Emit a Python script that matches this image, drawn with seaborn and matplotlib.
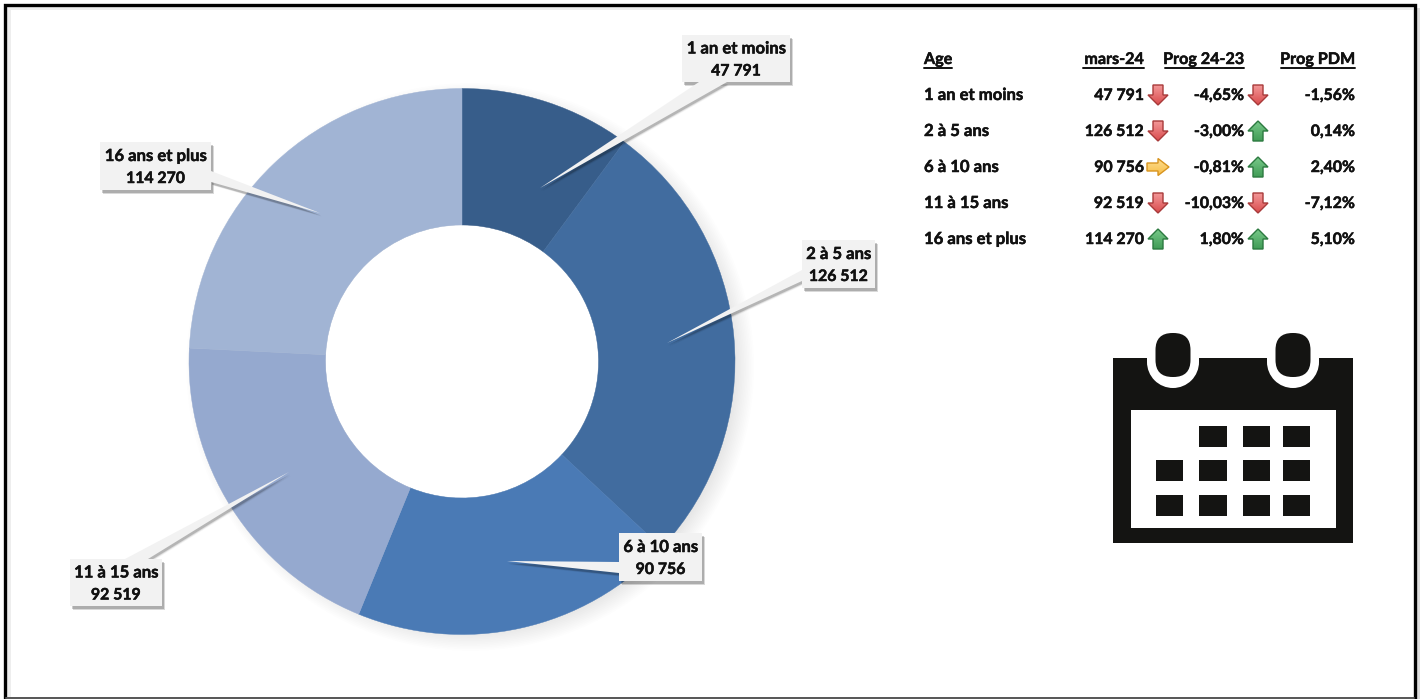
import matplotlib
matplotlib.use("Agg")
import matplotlib.patheffects as pe
import matplotlib.pyplot as plt
import numpy as np
import seaborn as sns
from matplotlib.patches import Circle, FancyBboxPatch, Polygon, Rectangle

ages = ["1 an et moins", "2 à 5 ans", "6 à 10 ans", "11 à 15 ans", "16 ans et plus"]
counts = [47791, 126512, 90756, 92519, 114270]
prog_year = ["-4,65%", "-3,00%", "-0,81%", "-10,03%", "1,80%"]
prog_pdm = ["-1,56%", "0,14%", "2,40%", "-7,12%", "5,10%"]
count_trend = ["down", "down", "flat", "down", "up"]
year_trend = ["down", "up", "up", "down", "up"]
headers = ["Age", "mars-24", "Prog 24-23", "Prog PDM"]
slice_colors = ["#375d8a", "#416c9f", "#4a7ab5", "#95a9cf", "#a1b4d4"]

W, H = 1421, 699
sns.set_theme(style="white")
plt.rcParams["font.family"] = ["Lato", "DejaVu Sans"]
plt.rcParams["font.weight"] = "bold"
FS_NAME = 12
FS_NUM = 11.4
FS_HEAD = 11.6
INK = "#111111"
HEAVY = [pe.withStroke(linewidth=0.35, foreground=INK)]


def fmt(v):
    return f"{v:,}".replace(",", " ")


fig = plt.figure(figsize=(W / 100, H / 100), dpi=100, facecolor="white")

# donut
cx, cy, r = 462, 361.5, 273
pie_ax = fig.add_axes([(cx - r) / W, 1 - (cy + r) / H, 2 * r / W, 2 * r / H])
pie_ax.set_xlim(-1, 1)
pie_ax.set_ylim(-1, 1)
pie_ax.axis("off")
# soft shadow, only shows to the lower right
for k in range(16):
    pie_ax.add_patch(Circle((0.03, -0.02), 0.95 + 0.006 * k, color="black", alpha=0.008,
                            lw=0, zorder=0, clip_on=False))
wedges, _ = pie_ax.pie(counts, colors=slice_colors, startangle=90, counterclock=False, radius=1,
                       wedgeprops=dict(width=0.5, linewidth=0.3, zorder=2))
for w in wedges:
    w.set_edgecolor(w.get_facecolor())
pie_ax.set_xlim(-1, 1)
pie_ax.set_ylim(-1, 1)
pie_ax.add_patch(Circle((0, 0), 0.5, color="white", lw=0, zorder=1))

# everything else in pixel coordinates
ax = fig.add_axes([0, 0, 1, 1], facecolor="none")
ax.set_xlim(0, W)
ax.set_ylim(H, 0)
ax.axis("off")
# frame with its faint shadow
ax.add_patch(Rectangle((7, 7), 4, 690, fc="#eeeeee", lw=0, zorder=0))
ax.add_patch(Rectangle((7, 7), 1406, 3, fc="#eeeeee", lw=0, zorder=0))
ax.add_patch(Rectangle((1416, 8), 4, 691, fc="#dddddd", lw=0, zorder=0))
ax.plot([5, 5, 1414.5, 1414.5], [699, 5, 5, 699], color="black", lw=2.4, zorder=1,
        solid_joinstyle="miter")
ax.plot([6, 1414], [698.3, 698.3], color="#555555", lw=1.4, zorder=1)


def shadow_poly(pts, dx=2, dy=3, strength=1.0):
    for k, a in zip((0, 1, 2), (0.20, 0.10, 0.05)):
        ax.add_patch(Polygon([(x + dx + k * 0.6, y + dy + k * 0.6) for x, y in pts], closed=True,
                             fc="black", alpha=a * strength, lw=0, zorder=4))


# callouts: box (x0, y0, x1, y1), tip, pointer base
callouts = [
    ((682, 35, 790, 82), (540, 188), [(699, 82), (727, 82)]),
    ((802, 240, 875, 288), (667, 343), [(802, 270), (802, 281)]),
    ((619, 533, 702, 581), (507, 561), [(619, 562), (619, 573)]),
    ((70, 559, 162, 606), (289, 472), [(125, 559), (148, 559)]),
    ((100, 142, 211, 190), (320, 213), [(211, 171), (211, 182)]),
]
for name, value, (box, tip, base) in zip(ages, counts, callouts):
    x0, y0, x1, y1 = box
    rect = [(x0, y0), (x1, y0), (x1, y1), (x0, y1)]
    shadow_poly(rect)
    shadow_poly([tip] + base, 1, 2.5, 0.9)
    ax.add_patch(Polygon([tip] + base, closed=True, fc="#f2f2f2", lw=0, zorder=5))
    ax.add_patch(Polygon(rect, closed=True, fc="#f2f2f2", lw=0, zorder=5))
    ym = (y0 + y1) / 2
    ax.text((x0 + x1) / 2, ym - 10, name, ha="center", va="center", fontsize=FS_NAME, color=INK,
            zorder=6, path_effects=HEAVY)
    ax.text((x0 + x1) / 2, ym + 13, fmt(value), ha="center", va="center", fontsize=FS_NUM, color=INK,
            zorder=6, path_effects=HEAVY)

# table
col_right = [None, 1144, 1244, 1355]
rows_y = [95, 131, 167, 203, 239]
ax.text(924, 60, headers[0], ha="left", va="center", fontsize=FS_HEAD, color=INK, path_effects=HEAVY)
ax.plot([924, 952], [67.5, 67.5], color=INK, lw=1.4)
for head, right, left in zip(headers[1:], col_right[1:], [1083, 1165, 1281]):
    ax.text(right, 60, head, ha="right", va="center", fontsize=FS_HEAD, color=INK, path_effects=HEAVY)
    ax.plot([left, right], [67.5, 67.5], color=INK, lw=1.4)

ARROWS = {
    "down": ("#f39a9a", "#d9494b", "#a83a3a",
             [(-5, -10), (5, -10), (5, 0), (10, 0), (0, 10), (-10, 0), (-5, 0)]),
    "up": ("#7acb8c", "#3f9a54", "#2c7a40",
           [(-5, 10), (5, 10), (5, 0), (10, 0), (0, -10), (-10, 0), (-5, 0)]),
    "flat": ("#fde29a", "#f8b93c", "#d8941f",
             [(-11, -4), (0, -4), (0, -8.5), (11, 0), (0, 8.5), (0, 4), (-11, 4)]),
}


def arrow(x, y, kind):
    top, bottom, edge, shape = ARROWS[kind]
    pts = [(x + dx, y + dy) for dx, dy in shape]
    poly = Polygon(pts, closed=True, fc="none", ec=edge, lw=1.0, zorder=7)
    grad = sns.blend_palette([top, bottom], 20)
    img = ax.imshow(np.array(grad)[:, None, :], extent=(x - 12, x + 12, y + 11, y - 11),
                    aspect="auto", zorder=6)
    ax.add_patch(poly)
    img.set_clip_path(poly)


for i, y in enumerate(rows_y):
    ax.text(924, y, ages[i], ha="left", va="center", fontsize=FS_NAME, color=INK, path_effects=HEAVY)
    ax.text(col_right[1], y + 1, fmt(counts[i]), ha="right", va="center", fontsize=FS_NUM, color=INK, path_effects=HEAVY)
    ax.text(col_right[2], y + 1, prog_year[i], ha="right", va="center", fontsize=FS_NUM, color=INK, path_effects=HEAVY)
    ax.text(col_right[3], y + 1, prog_pdm[i], ha="right", va="center", fontsize=FS_NUM, color=INK, path_effects=HEAVY)
    arrow(1158, y, count_trend[i])
    arrow(1258, y, year_trend[i])

# calendar icon
DARK = "#141412"
ax.add_patch(Rectangle((1113, 358), 240, 185, fc=DARK, lw=0, zorder=3))
ax.add_patch(Rectangle((1131, 410), 205, 118, fc="white", lw=0, zorder=4))
for ring_x in (1173, 1293):
    ax.add_patch(Circle((ring_x, 362), 26, fc="white", lw=0, zorder=4))
    ax.add_patch(Rectangle((ring_x - 26, 345), 52, 17, fc="white", lw=0, zorder=4))
    ax.add_patch(FancyBboxPatch((ring_x - 17.5, 333), 35, 44, boxstyle="round,pad=0,rounding_size=17",
                                fc=DARK, lw=0, zorder=5))
cols = [(1156, 1183), (1199, 1227), (1243, 1270), (1283, 1310)]
grid_rows = [(426, 447), (460, 481), (495, 516)]
for j, (y0, y1) in enumerate(grid_rows):
    for i, (x0, x1) in enumerate(cols):
        if j == 0 and i == 0:
            continue
        ax.add_patch(Rectangle((x0, y0), x1 - x0, y1 - y0, fc=DARK, lw=0, zorder=5))

ax.set_xlim(0, W)
ax.set_ylim(H, 0)
fig.savefig("out.png", dpi=100, facecolor="white")
